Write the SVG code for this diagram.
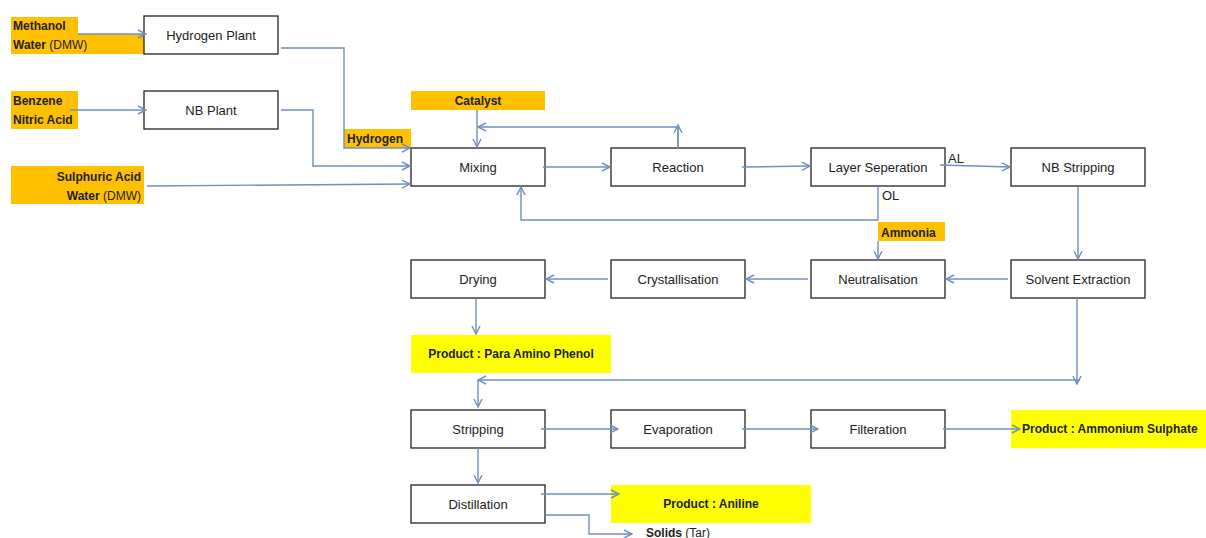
<svg xmlns="http://www.w3.org/2000/svg" width="1206" height="538" viewBox="0 0 1206 538">
<style>
.box{fill:#fff;stroke:#222;stroke-width:1.3}
.or{fill:#ffc000}
.ye{fill:#ffff00}
.t{font-family:"Liberation Sans",Arial,sans-serif;font-size:13px;fill:#222}
.b{font-family:"Liberation Sans",Arial,sans-serif;font-size:12px;font-weight:bold;fill:#222}
.n{font-weight:normal}
.c{text-anchor:middle}
.r{text-anchor:end}
.ln{fill:none;stroke:#6f8fbd;stroke-width:1.4}
</style>
<defs>
<marker id="a" viewBox="0 0 10 10" refX="9" refY="5" markerWidth="10" markerHeight="10" markerUnits="userSpaceOnUse" orient="auto">
<path d="M1,1 L9,5 L1,9" fill="none" stroke="#6f8fbd" stroke-width="1.4"/>
</marker>
</defs>
<rect width="1206" height="538" fill="#fff"/>

<g id="in-methanol"><path class="or" d="M11,17 H78 V34 H144 V54 H11 Z"/><text class="b" x="13" y="30">Methanol</text><text class="b" x="13" y="49">Water <tspan class="n">(DMW)</tspan></text></g>
<g id="in-benzene"><rect class="or" x="11" y="91" width="67" height="38"/><text class="b" x="13" y="105">Benzene</text><text class="b" x="13" y="124">Nitric Acid</text></g>
<g id="in-sulphuric"><rect class="or" x="11" y="166" width="133" height="38"/><text class="b r" x="141" y="181">Sulphuric Acid</text><text class="b r" x="141" y="200">Water <tspan class="n">(DMW)</tspan></text></g>
<g id="hydrogen-plant"><rect class="box" x="144" y="16" width="134" height="38"/><text class="t c" x="211" y="40">Hydrogen Plant</text></g>
<g id="nb-plant"><rect class="box" x="144" y="91" width="134" height="38"/><text class="t c" x="211" y="115">NB Plant</text></g>
<g id="hydrogen-label"><rect class="or" x="344" y="129" width="67" height="19"/><text class="b" x="347" y="143">Hydrogen</text></g>
<g id="catalyst"><rect class="or" x="411" y="91" width="134" height="19"/><text class="b c" x="478" y="105">Catalyst</text></g>
<g id="mixing"><rect class="box" x="411" y="148" width="134" height="38"/><text class="t c" x="478" y="172">Mixing</text></g>
<g id="reaction"><rect class="box" x="611" y="148" width="134" height="38"/><text class="t c" x="678" y="172">Reaction</text></g>
<g id="layer-separation"><rect class="box" x="811" y="148" width="134" height="38"/><text class="t c" x="878" y="172">Layer Seperation</text></g>
<g id="nb-stripping"><rect class="box" x="1011" y="148" width="134" height="38"/><text class="t c" x="1078" y="172">NB Stripping</text></g>
<g id="ammonia"><rect class="or" x="878" y="222" width="67" height="19"/><text class="b" x="881" y="237">Ammonia</text></g>
<g id="drying"><rect class="box" x="411" y="260" width="134" height="38"/><text class="t c" x="478" y="284">Drying</text></g>
<g id="crystallisation"><rect class="box" x="611" y="260" width="134" height="38"/><text class="t c" x="678" y="284">Crystallisation</text></g>
<g id="neutralisation"><rect class="box" x="811" y="260" width="134" height="38"/><text class="t c" x="878" y="284">Neutralisation</text></g>
<g id="solvent-extraction"><rect class="box" x="1011" y="260" width="134" height="38"/><text class="t c" x="1078" y="284">Solvent Extraction</text></g>
<g id="para-amino-phenol"><rect class="ye" x="411" y="335" width="200" height="38"/><text class="b c" x="511" y="358">Product : Para Amino Phenol</text></g>
<g id="stripping"><rect class="box" x="411" y="410" width="134" height="38"/><text class="t c" x="478" y="434">Stripping</text></g>
<g id="evaporation"><rect class="box" x="611" y="410" width="134" height="38"/><text class="t c" x="678" y="434">Evaporation</text></g>
<g id="filteration"><rect class="box" x="811" y="410" width="134" height="38"/><text class="t c" x="878" y="434">Filteration</text></g>
<g id="ammonium-sulphate"><rect class="ye" x="1011" y="410" width="195" height="38"/><text class="b" x="1022" y="433">Product : Ammonium Sulphate</text></g>
<g id="distillation"><rect class="box" x="411" y="485" width="134" height="38"/><text class="t c" x="478" y="509">Distillation</text></g>
<g id="aniline"><rect class="ye" x="611" y="485" width="200" height="38"/><text class="b c" x="711" y="508">Product : Aniline</text></g>
<g id="solids"><text class="b" x="646" y="537">Solids <tspan class="n">(Tar)</tspan></text></g>

<g id="connectors">
<path class="ln" marker-end="url(#a)" d="M78,34 H146"/>
<path class="ln" marker-end="url(#a)" d="M70,110 H146"/>
<path class="ln" marker-end="url(#a)" d="M281,48 H344 V148 H410"/>
<path class="ln" marker-end="url(#a)" d="M281,110 H313 V166 H410"/>
<path class="ln" marker-end="url(#a)" d="M147,186 L410,184"/>
<path class="ln" marker-end="url(#a)" d="M477,110 V147"/>
<path class="ln" marker-end="url(#a)" d="M678,148 V127 H478"/>
<path class="ln" marker-end="url(#a)" d="M678,148 V125"/>
<path class="ln" marker-end="url(#a)" d="M543,167 H610"/>
<path class="ln" marker-end="url(#a)" d="M742,167 L810,166"/>
<path class="ln" marker-end="url(#a)" d="M940,165 L1010,167"/>
<text class="t" x="948" y="163">AL</text>
<path class="ln" marker-end="url(#a)" d="M878,186 V220 H521 V187"/>
<text class="t" x="882" y="200">OL</text>
<path class="ln" marker-end="url(#a)" d="M878,241 V259"/>
<path class="ln" marker-end="url(#a)" d="M1078,187 V259"/>
<path class="ln" marker-end="url(#a)" d="M1008,279 H946"/>
<path class="ln" marker-end="url(#a)" d="M808,279 H746"/>
<path class="ln" marker-end="url(#a)" d="M608,279 H546"/>
<path class="ln" marker-end="url(#a)" d="M476,299 V334"/>
<path class="ln" marker-end="url(#a)" d="M1077,298 V384"/>
<path class="ln" marker-end="url(#a)" d="M1080,380 H478"/>
<path class="ln" marker-end="url(#a)" d="M478,380 V407"/>
<path class="ln" marker-end="url(#a)" d="M541,429 H618"/>
<path class="ln" marker-end="url(#a)" d="M742,429 H818"/>
<path class="ln" marker-end="url(#a)" d="M943,429 H1020"/>
<path class="ln" marker-end="url(#a)" d="M478,448 V483"/>
<path class="ln" marker-end="url(#a)" d="M541,494 H619"/>
<path class="ln" marker-end="url(#a)" d="M545,515 H589 V534 H632"/>
</g>
</svg>
